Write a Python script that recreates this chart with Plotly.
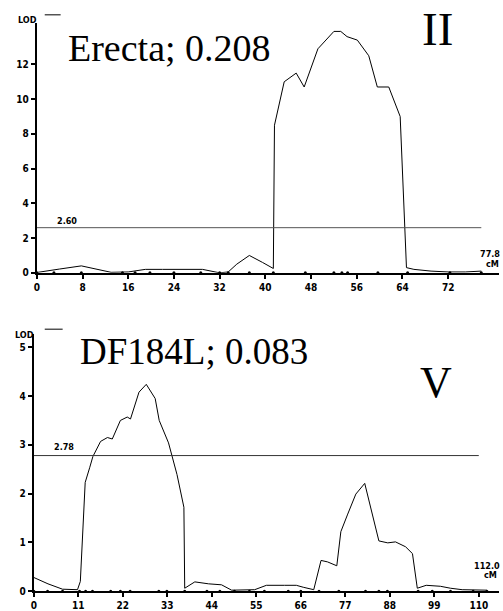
import plotly.graph_objects as go

W, H = 503, 611

# ---------------- data ----------------
# Chromosome II (Erecta; 0.208)
chr2_cm = [0, 2, 4, 7.8, 10, 13, 16, 19, 22, 25, 29, 32, 33.5, 35, 37.2, 39.5, 41.4,
           41.6, 43.3, 45.4, 46.8, 49.2, 52, 53.2, 54.3, 56.1, 58.1, 59.6, 61.6, 63.6,
           64.7, 66, 69, 72, 75, 77.8]
chr2_lod = [0.02, 0.1, 0.22, 0.4, 0.25, 0.03, 0.05, 0.2, 0.2, 0.2, 0.2, 0.0, 0.05, 0.5, 1.0, 0.6, 0.25,
            8.5, 11.0, 11.5, 10.7, 12.9, 13.9, 13.9, 13.6, 13.4, 12.5, 10.7, 10.7, 9.0,
            0.3, 0.2, 0.1, 0.05, 0.05, 0.1]
chr2_markers = [0, 3, 7.8, 15, 17.2, 19.8, 24, 28.7, 32, 33.5, 37.2, 41.4, 47, 52, 53.4,
                54.4, 59.7, 64.9, 72.3, 77.8]
chr2_threshold = 2.60
chr2_length = 77.8
chr2_xticks = [0, 8, 16, 24, 32, 40, 48, 56, 64, 72]
chr2_yticks = [0, 2, 4, 6, 8, 10, 12]

# Chromosome V (DF184L; 0.083)
chr5_cm = [0, 3.5, 7.1, 10.8, 11.5, 12.7, 13.8, 14.6, 16.5, 18.2, 19.4, 21.4, 23.1, 23.9,
           26, 27.8, 30, 31, 33.3, 35.4, 37.1, 37.3, 39.8, 43.2, 46.4, 48.9, 54.6, 57.5,
           62, 64.9, 66.6, 69.2, 71, 72.6, 74.9, 75.9, 77.6, 79.6, 81.8, 85.3, 87.5, 89.4,
           91.9, 93.6, 94.8, 97, 100.5, 103, 105.9, 112]
chr5_lod = [0.28, 0.15, 0.04, 0.03, 0.2, 2.23, 2.53, 2.76, 3.07, 3.15, 3.12, 3.5, 3.57, 3.53,
            4.08, 4.24, 3.95, 3.5, 3.04, 2.39, 1.72, 0.06, 0.19, 0.15, 0.13, 0.02, 0.03, 0.12,
            0.12, 0.12, 0.08, 0.03, 0.63, 0.6, 0.52, 1.22, 1.58, 1.99, 2.21, 1.03, 0.99, 1.01,
            0.91, 0.77, 0.06, 0.12, 0.1, 0.06, 0.03, 0.02]
chr5_markers = [0, 3.4, 7.1, 11.3, 12.8, 14.5, 19, 21.4, 23.8, 30.9, 32.9, 37.3, 42.8, 46,
                49.6, 53.3, 57, 62.9, 66, 70.5, 75.4, 82, 85.3, 87.4, 95, 98.5, 103, 108.6, 112]
chr5_threshold = 2.78
chr5_length = 112.0
chr5_xticks = [0, 11, 22, 33, 44, 55, 66, 77, 88, 99, 110]
chr5_yticks = [0, 1, 2, 3, 4, 5]

# ---------------- layout helpers ----------------
def px_x(x):
    return x / W

def px_y(y):
    return 1 - y / H

tickfont = dict(family="Liberation Sans Narrow, DejaVu Sans Condensed, Arial, sans-serif",
                size=10, color="black", weight="bold")
serif = "Liberation Serif, Times New Roman, serif"

fig = go.Figure()

# top panel
fig.add_trace(go.Scatter(x=chr2_cm, y=chr2_lod, mode="lines",
                         line=dict(color="black", width=1), xaxis="x", yaxis="y",
                         showlegend=False, hoverinfo="skip"))
fig.add_trace(go.Scatter(x=[0, chr2_length], y=[chr2_threshold] * 2, mode="lines",
                         line=dict(color="#555", width=1), xaxis="x", yaxis="y",
                         showlegend=False, hoverinfo="skip"))
fig.add_trace(go.Scatter(x=chr2_markers, y=[0] * len(chr2_markers), mode="markers",
                         marker=dict(color="black", size=3), xaxis="x", yaxis="y",
                         showlegend=False, hoverinfo="skip", cliponaxis=False))

# bottom panel
fig.add_trace(go.Scatter(x=chr5_cm, y=chr5_lod, mode="lines",
                         line=dict(color="black", width=1), xaxis="x2", yaxis="y2",
                         showlegend=False, hoverinfo="skip"))
fig.add_trace(go.Scatter(x=[0, 110], y=[chr5_threshold] * 2, mode="lines",
                         line=dict(color="#333", width=1), xaxis="x2", yaxis="y2",
                         showlegend=False, hoverinfo="skip"))
fig.add_trace(go.Scatter(x=chr5_markers, y=[0] * len(chr5_markers), mode="markers",
                         marker=dict(color="black", size=3), xaxis="x2", yaxis="y2",
                         showlegend=False, hoverinfo="skip", cliponaxis=False))

axis_common = dict(showline=True, linecolor="black", linewidth=2, showgrid=False,
                   zeroline=False, ticks="outside", ticklen=4, tickwidth=1.5,
                   tickcolor="black", tickfont=tickfont)

fig.update_layout(
    width=W, height=H, margin=dict(l=0, r=0, t=0, b=0),
    paper_bgcolor="white", plot_bgcolor="white",
    xaxis=dict(domain=[px_x(34), px_x(499)], range=[0, 80.9], tickvals=chr2_xticks,
               anchor="y", ticklabelstandoff=0, **axis_common),
    yaxis=dict(domain=[px_y(276), px_y(23)], range=[0, 14.4], tickvals=chr2_yticks,
               anchor="x", **axis_common),
    xaxis2=dict(domain=[px_x(31), px_x(499)], range=[0, 115], tickvals=chr5_xticks,
                anchor="y2", **axis_common),
    yaxis2=dict(domain=[px_y(598), px_y(338)], range=[0, 5.27], tickvals=chr5_yticks,
                anchor="x2", **axis_common),
)

small = dict(family="Liberation Sans Narrow, DejaVu Sans Condensed, Arial, sans-serif",
             size=9, color="black", weight="bold")
ann = []
# LOD labels
ann.append(dict(x=px_x(25), y=px_y(20), text="LOD", font=small))
ann.append(dict(x=px_x(22), y=px_y(339), text="LOD", font=small))
# threshold labels
ann.append(dict(x=px_x(64), y=px_y(224), text=f"{chr2_threshold:.2f}", font=small))
ann.append(dict(x=px_x(61), y=px_y(452), text=f"{chr5_threshold:.2f}", font=small))
# length labels
ann.append(dict(x=px_x(490), y=px_y(257), text=f"{chr2_length:.1f}", font=small))
ann.append(dict(x=px_x(492), y=px_y(267), text="cM", font=small))
ann.append(dict(x=px_x(487), y=px_y(573), text=f"{chr5_length:.1f}", font=small))
ann.append(dict(x=px_x(490), y=px_y(582), text="cM", font=small))
# titles
ann.append(dict(x=px_x(63), y=px_y(49), text="Erecta; 0.208", xanchor="left",
                font=dict(family=serif, size=38, color="black")))
ann.append(dict(x=px_x(75), y=px_y(356), text="DF184L; 0.083", xanchor="left",
                font=dict(family=serif, size=37, color="black")))
ann.append(dict(x=px_x(437), y=px_y(29), text="II",
                font=dict(family=serif, size=47, color="black")))
ann.append(dict(x=px_x(436), y=px_y(387), text="V",
                font=dict(family=serif, size=44, color="black")))
for a in ann:
    a.setdefault("xanchor", "center")
    a.update(xref="paper", yref="paper", yanchor="middle", showarrow=False)
fig.update_layout(annotations=ann)

# short legend dashes next to LOD
fig.add_shape(type="line", xref="paper", yref="paper", x0=px_x(42), x1=px_x(58),
              y0=px_y(15), y1=px_y(15), line=dict(color="black", width=1))
fig.add_shape(type="line", xref="paper", yref="paper", x0=px_x(42), x1=px_x(60),
              y0=px_y(333), y1=px_y(333), line=dict(color="black", width=1))

fig.write_html("out.html")
